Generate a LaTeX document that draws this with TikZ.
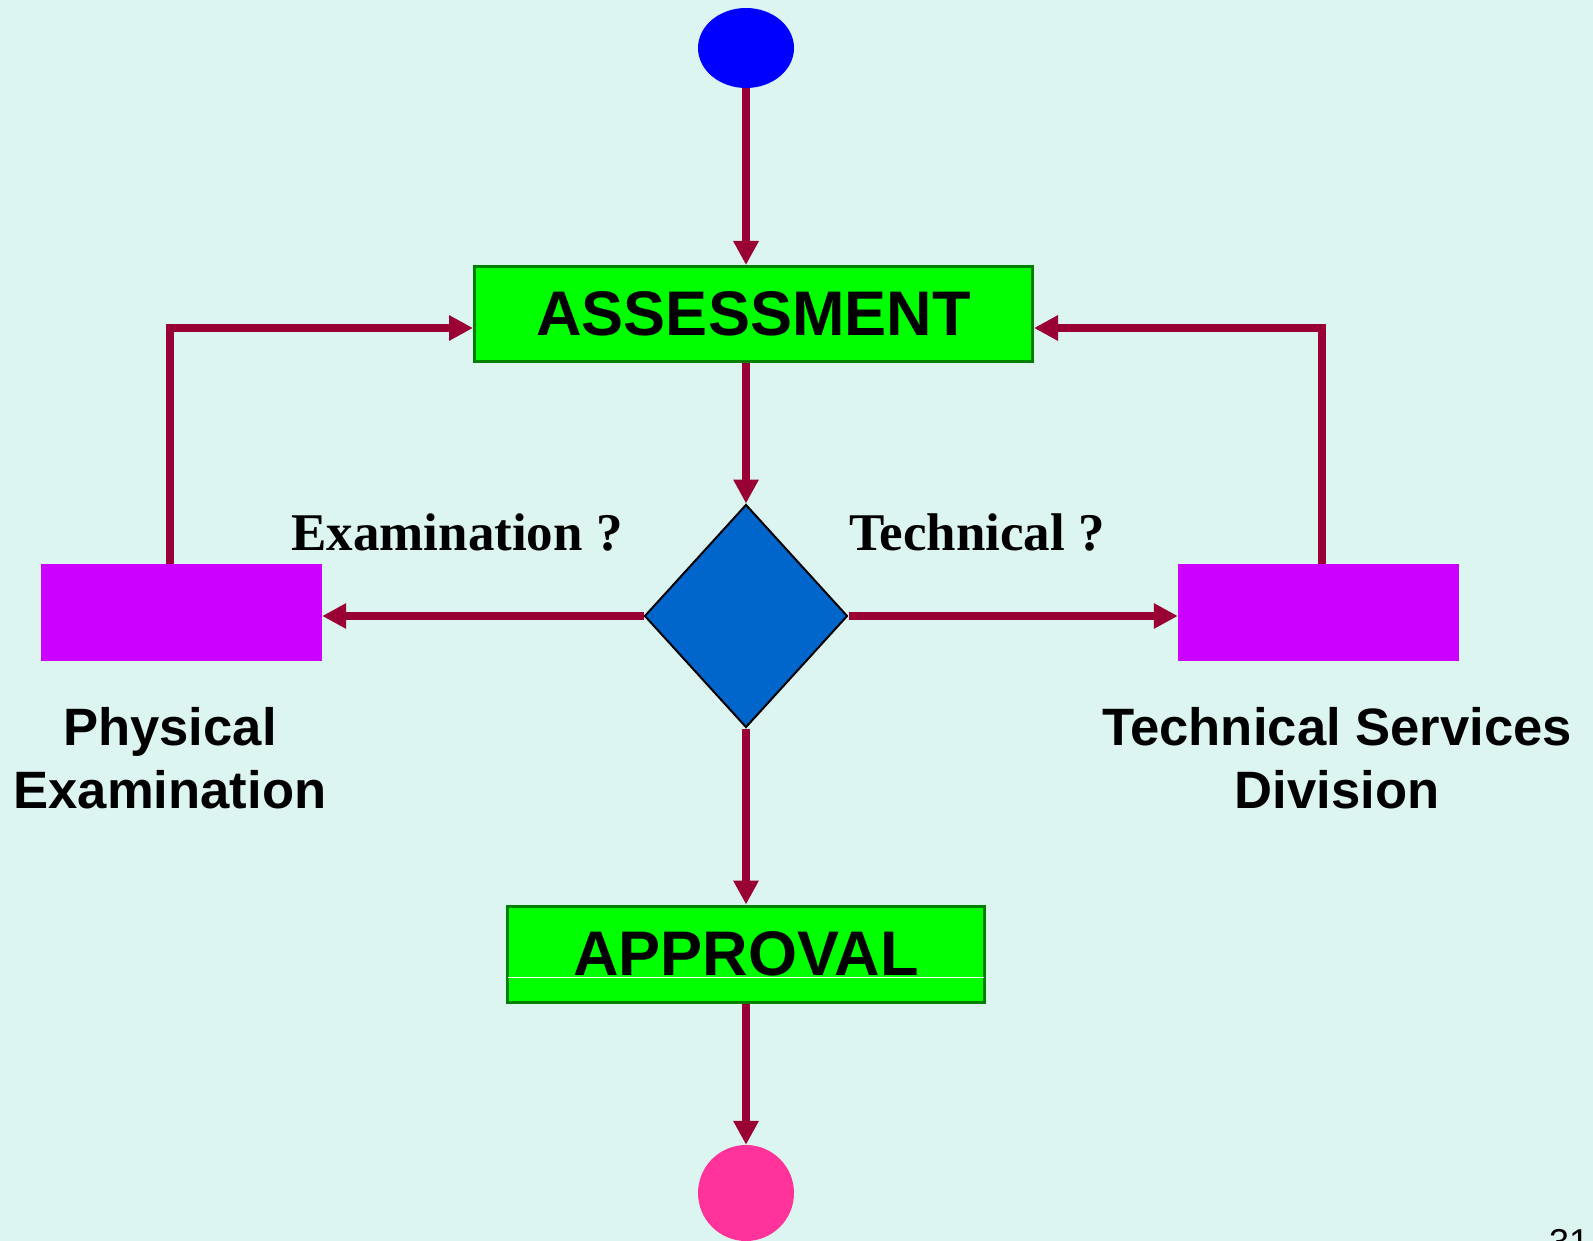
\documentclass[tikz,border=0pt]{standalone}
\usepackage{fontspec}
\setmainfont{Liberation Serif}
\setsansfont{Liberation Sans}
\usetikzlibrary{arrows.meta,shapes.geometric}
\definecolor{bg}{RGB}{221,245,240}
\definecolor{arr}{RGB}{153,0,51}
\definecolor{grn}{RGB}{0,255,0}
\definecolor{grnb}{RGB}{0,128,0}
\definecolor{mag}{RGB}{204,0,255}
\definecolor{dblue}{RGB}{0,102,204}
\definecolor{pinkc}{RGB}{255,51,153}
\begin{document}
\begin{tikzpicture}[x=1pt,y=-1pt,
 conn/.style={draw=arr,line width=8pt,-{Triangle[length=24pt,width=24pt]}},
 greenbox/.style={rectangle,draw=grnb,line width=3pt,fill=grn,inner sep=0pt,font=\sffamily\bfseries\fontsize{63}{63}\selectfont},
 magbox/.style={rectangle,fill=mag,minimum width=281pt,minimum height=97pt,inner sep=0pt},
 sidelabel/.style={font=\sffamily\bfseries\fontsize{52.6}{63}\selectfont,anchor=base,inner sep=0pt},
 qlabel/.style={font=\rmfamily\bfseries\fontsize{53}{53}\selectfont,anchor=base,inner sep=0pt}]
\fill[bg] (0,0) rectangle (1593,1241);
\useasboundingbox (0,0) rectangle (1593,1241);
\clip (0,0) rectangle (1593,1241);

\node[ellipse,fill=blue,minimum width=96pt,minimum height=80pt,inner sep=0pt] (start) at (746,48) {};
\node[greenbox,minimum width=558pt,minimum height=95pt] (assess) at (753.5,314) {ASSESSMENT};
\node[diamond,draw=black,line width=2pt,fill=dblue,minimum width=203pt,minimum height=223pt,inner sep=0pt] (dec) at (746,616) {};
\node[magbox] (pe) at (181.5,612.5) {};
\node[magbox] (tsd) at (1318.5,612.5) {};
\node[greenbox,minimum width=477pt,minimum height=96pt] (appr) at (746,954) {APPROVAL};
\draw[white,line width=1pt] ([xshift=2pt]appr.west |- 0,977) -- ([xshift=-2pt]appr.east |- 0,977);
\node[circle,fill=pinkc,minimum size=96pt,inner sep=0pt] (end) at (746,1193) {};

\node[qlabel] (qexam) at (457,550) {Examination ?};
\node[qlabel] (qtech) at (977,550) {Technical ?};
\node[sidelabel] (pel1) at (170,745) {Physical};
\node[sidelabel] (pel2) at (170,808) {Examination};
\node[sidelabel] (tsl1) at (1337,745) {Technical Services};
\node[sidelabel] (tsl2) at (1337,808) {Division};
\node[font=\sffamily\fontsize{36}{36}\selectfont,anchor=base west,inner sep=0pt] (pagenum) at (1549,1254) {31};

\draw[conn] (start.south) -- (start.south |- assess.north);
\draw[conn] (dec.north |- assess.south) -- (dec.north);
\draw[conn] (dec.south) -- (appr.north);
\draw[conn] (appr.south) -- (end.north);
\draw[conn] (dec.west) -- (dec.west -| pe.east);
\draw[conn] (dec.east) -- (dec.east -| tsd.west);
\draw[conn] ([xshift=-11.5pt]pe.north) |- ([yshift=-14pt]assess.west);
\draw[conn] ([xshift=3.5pt]tsd.north) |- ([yshift=-14pt]assess.east);
\end{tikzpicture}
\end{document}
